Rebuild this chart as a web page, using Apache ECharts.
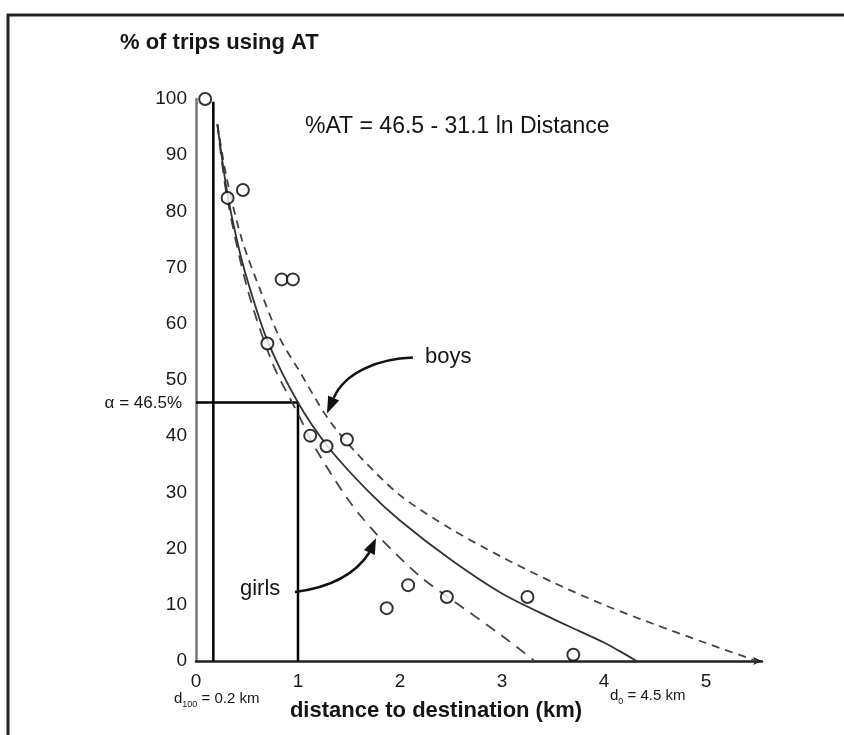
<!DOCTYPE html>
<html>
<head>
<meta charset="utf-8">
<title>% of trips using AT</title>
<script src="https://cdn.jsdelivr.net/npm/echarts@6.0.0/dist/echarts.min.js"></script>
<style>
  html, body { margin: 0; padding: 0; background: #fff; }
  #main { width: 844px; height: 735px; }
</style>
</head>
<body>
<div id="main"></div>
<script>
// observed trips (distance km, % using AT)
const obsX = [0.09, 0.31, 0.46, 0.70, 0.84, 0.95, 1.12, 1.28, 1.48, 1.87, 2.08, 2.46, 3.25, 3.70];
const obsY = [100, 82.4, 83.8, 56.5, 67.9, 67.9, 40.1, 38.2, 39.4, 9.4, 13.5, 11.4, 11.4, 1.1];

// fitted curve
const fitX = [0.21, 0.3, 0.4, 0.5, 0.7, 1.0, 1.3, 1.7, 2.0, 2.5, 3.0, 3.5, 3.75, 4.0, 4.15, 4.32];
const fitY = [95.5, 84, 75, 68, 57, 46, 38, 30, 25, 18, 12, 7.5, 5.4, 3.3, 1.8, 0];

// boys (upper dashed)
const boysX = [0.21, 0.3, 0.45, 0.63, 0.82, 1.0, 1.3, 1.6, 2.0, 2.5, 3.0, 3.5, 4.0, 4.5, 5.0, 5.5];
const boysY = [95.5, 86, 75, 66, 57.5, 52, 43, 36.5, 29.5, 23.5, 18.5, 14, 10, 6.5, 3.2, 0];

// girls (lower dashed)
const girlsX = [0.21, 0.3, 0.5, 0.75, 1.0, 1.15, 1.5, 1.8, 2.2, 2.5, 3.0, 3.32];
const girlsY = [95.5, 83, 66.5, 53, 44, 38.5, 28.5, 22, 15, 11, 4.5, 0];

// reference lines: d100 and alpha
const d100 = 0.17;
const alpha = 46;
const alphaDist = 1;

const FONT = '"Liberation Sans", Arial, sans-serif';

function pairs(xs, ys) {
  return xs.map((x, i) => [x, ys[i]]);
}

var chartDom = document.getElementById('main');
var myChart = echarts.init(chartDom);
var option;

option = {
  animation: false,
  backgroundColor: '#fff',
  grid: {
    left: 196,
    right: 82,
    top: 99,
    bottom: 74
  },
  xAxis: {
    type: 'value',
    min: 0,
    max: 5.55,
    interval: 1,
    axisLine: {
      lineStyle: { color: '#222', width: 2.5 },
      symbol: ['none', 'arrow'],
      symbolSize: [6, 9]
    },
    axisTick: { show: false },
    splitLine: { show: false },
    axisLabel: {
      margin: 11,
      color: '#1a1a1a',
      fontFamily: FONT,
      fontSize: 19,
      showMaxLabel: false,
      formatter: function (v) {
        return Number.isInteger(v) ? String(v) : '';
      }
    }
  },
  yAxis: {
    type: 'value',
    min: 0,
    max: 100,
    interval: 10,
    axisLine: {
      show: true,
      lineStyle: { color: '#777', width: 2.5 }
    },
    axisTick: { show: false },
    splitLine: { show: false },
    axisLabel: {
      margin: 9,
      color: '#1a1a1a',
      fontFamily: FONT,
      fontSize: 19
    }
  },
  series: [
    {
      name: 'd100',
      type: 'line',
      data: [[d100, 0], [d100, 99.5]],
      symbol: 'none',
      lineStyle: { color: '#000', width: 2.5 },
      z: 3
    },
    {
      name: 'alpha',
      type: 'line',
      data: [[0, alpha], [alphaDist, alpha], [alphaDist, 0]],
      symbol: 'none',
      lineStyle: { color: '#000', width: 2.5 },
      z: 3
    },
    {
      name: 'boys',
      type: 'line',
      smooth: 0.3,
      data: pairs(boysX, boysY),
      symbol: 'none',
      lineStyle: { color: '#444', width: 1.8, type: [8, 6] },
      z: 4
    },
    {
      name: 'girls',
      type: 'line',
      smooth: 0.3,
      data: pairs(girlsX, girlsY),
      symbol: 'none',
      lineStyle: { color: '#444', width: 1.8, type: [11, 8] },
      z: 4
    },
    {
      name: 'fit',
      type: 'line',
      smooth: 0.3,
      data: pairs(fitX, fitY),
      symbol: 'none',
      lineStyle: { color: '#333', width: 1.8 },
      z: 5
    },
    {
      name: 'observed',
      type: 'scatter',
      data: pairs(obsX, obsY),
      symbol: 'circle',
      symbolSize: 12,
      itemStyle: { color: '#fff', borderColor: '#000', borderWidth: 2 },
      z: 6
    }
  ]
};

option && myChart.setOption(option);

// curved arrows, given in data coords: start, cp1, cp2, end of curve, tip
const boysArrow = [[2.127, 54.0], [1.80, 53.8], [1.46, 51.5], [1.35, 46.8], [1.284, 44.05]];
const girlsArrow = [[0.97, 12.26], [1.28, 13.0], [1.55, 15.0], [1.70, 19.3], [1.765, 21.85]];

function arrowEls(pts) {
  const p = pts.map(d => myChart.convertToPixel({ gridIndex: 0 }, d));
  const [s, c1, c2, e, t] = p;
  const dx = t[0] - e[0], dy = t[1] - e[1];
  const len = Math.sqrt(dx * dx + dy * dy);
  const nx = -dy / len * 6, ny = dx / len * 6;
  return [
    {
      type: 'bezierCurve',
      shape: { x1: s[0], y1: s[1], cpx1: c1[0], cpy1: c1[1], cpx2: c2[0], cpy2: c2[1], x2: e[0], y2: e[1] },
      style: { stroke: '#111', lineWidth: 2.5, fill: null },
      z: 20
    },
    {
      type: 'polygon',
      shape: { points: [t, [e[0] + nx, e[1] + ny], [e[0] - nx, e[1] - ny]] },
      style: { fill: '#111' },
      z: 20
    }
  ];
}

function label(text, x, y, size, opts) {
  opts = opts || {};
  return {
    type: 'text',
    x: x,
    y: y,
    z: 30,
    style: {
      text: text,
      font: (opts.bold ? 'bold ' : '') + size + 'px ' + FONT,
      fill: '#151515',
      textAlign: opts.align || 'left',
      align: opts.align || 'left',
      textVerticalAlign: 'middle',
      verticalAlign: 'middle',
      rich: opts.rich
    }
  };
}

function subRich(size) {
  return {
    m: { fontSize: size, fontFamily: FONT, color: '#151515', lineHeight: 20 },
    s: { fontSize: 9, fontFamily: FONT, color: '#151515', lineHeight: 9, verticalAlign: 'bottom' }
  };
}

myChart.setOption({
  graphic: [
    // frame
    {
      type: 'rect',
      shape: { x: 8, y: 15, width: 900, height: 800 },
      style: { stroke: '#222', lineWidth: 3, fill: null },
      z: 1
    },
    label('% of trips using AT', 120, 43, 22, { bold: true }),
    label('%AT = 46.5 - 31.1 ln Distance', 305, 127, 23),
    label('boys', 425, 357, 22),
    label('girls', 240, 589, 22),
    label('\u03b1 = 46.5%', 182, 403, 17, { align: 'right' }),
    label('distance to destination (km)', 436, 711, 22, { bold: true, align: 'center' }),
    label('{m|d}{s|100}{m| = 0.2 km}', 174, 699, 15, { rich: subRich(15) }),
    label('{m|d}{s|0}{m| = 4.5 km}', 610, 696, 15, { rich: subRich(15) })
  ].concat(arrowEls(boysArrow), arrowEls(girlsArrow))
});
</script>
</body>
</html>
